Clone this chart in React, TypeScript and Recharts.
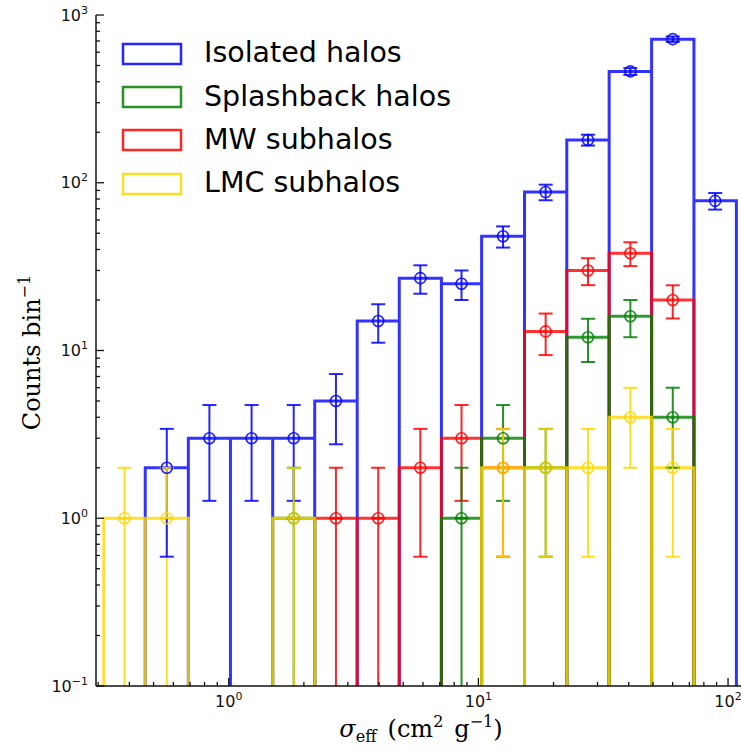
import React from "react"
import { ComposedChart, Line, Scatter, ErrorBar, XAxis, YAxis, Legend } from "recharts"

// log-spaced bin edges of sigma_eff (cm^2 g^-1)
const binEdges = [0.316, 0.463, 0.689, 1.016, 1.5, 2.21, 3.27, 4.82, 7.11, 10.3, 15.3, 22.6, 33.4, 49.4, 73, 108]

// counts per bin
const isolatedCounts = [0, 2, 3, 3, 3, 5, 15, 27, 25, 48, 88, 180, 461, 718, 78]
const splashbackCounts = [0, 0, 0, 0, 1, 0, 0, 0, 1, 3, 2, 12, 16, 4, 0]
const mwCounts = [0, 0, 0, 0, 0, 1, 1, 2, 3, 2, 13, 30, 38, 20, 0]
const lmcCounts = [1, 1, 0, 0, 1, 0, 0, 0, 0, 2, 2, 2, 4, 2, 0]

// error bar half-lengths
const isolatedErr = [0, 1.41, 1.73, 1.73, 1.73, 2.24, 3.87, 5.2, 5, 6.93, 9.38, 13.4, 21.5, 26.8, 8.83]
const splashbackErr = [0, 0, 0, 0, 1, 0, 0, 0, 1, 1.73, 1.41, 3.46, 4, 2, 0]
const mwErr = [0, 0, 0, 0, 0, 1, 1, 1.41, 1.73, 1.41, 3.61, 5.48, 6.16, 4.47, 0]
const lmcErr = [1, 1, 0, 0, 1, 0, 0, 0, 0, 1.41, 1.41, 1.41, 2, 1.41, 0]

const xMajorTicks = [1, 10, 100]
const yMajorTicks = [0.1, 1, 10, 100, 1000]

const X_DOMAIN = [0.294, 118]
const Y_DOMAIN = [0.1, 1000]

const series = [
  { name: "Isolated halos", color: "#0000ff", counts: isolatedCounts, errors: isolatedErr },
  { name: "Splashback halos", color: "#008000", counts: splashbackCounts, errors: splashbackErr },
  { name: "MW subhalos", color: "#ff0000", counts: mwCounts, errors: mwErr },
  { name: "LMC subhalos", color: "#ffd700", counts: lmcCounts, errors: lmcErr },
]
// draw order: blue, red, green, yellow
const drawOrder = [0, 2, 1, 3]

const minors = (lo: number, hi: number) => {
  const out: number[] = []
  for (let d = 0.1; d < 1000; d *= 10) {
    for (let m = 2; m <= 9; m++) {
      const v = +(m * d).toPrecision(3)
      if (v > lo && v < hi) out.push(v)
    }
  }
  return out
}
const xTicks = [...xMajorTicks, ...minors(X_DOMAIN[0], X_DOMAIN[1])].sort((a, b) => a - b)
const yTicks = [...yMajorTicks, ...minors(Y_DOMAIN[0], Y_DOMAIN[1])].sort((a, b) => a - b)

const binCenter = (i: number) => Math.sqrt(binEdges[i] * binEdges[i + 1])

// bar outlines (histtype="bar", unfilled): each bar drawn from the bottom up
function outline(counts: number[]) {
  const pts: { x: number; y: number | null }[] = []
  counts.forEach((c, i) => {
    if (c <= 0) return
    const lo = binEdges[i]
    const hi = binEdges[i + 1]
    if (i === 0 || counts[i - 1] <= 0) {
      if (pts.length) pts.push({ x: lo, y: null })
      pts.push({ x: lo, y: Y_DOMAIN[0] })
    }
    pts.push({ x: lo, y: c }, { x: hi, y: c }, { x: hi, y: Y_DOMAIN[0] })
  })
  return pts
}

// lower whiskers that run off the log axis (count - error <= 0)
function openWhiskers(counts: number[], errors: number[]) {
  const pts: { x: number; y: number | null }[] = []
  counts.forEach((c, i) => {
    if (c <= 0 || errors[i] < c) return
    if (pts.length) pts.push({ x: binCenter(i), y: null })
    pts.push({ x: binCenter(i), y: c }, { x: binCenter(i), y: Y_DOMAIN[0] })
  })
  return pts
}

function markers(counts: number[], errors: number[]) {
  return counts.flatMap((c, i) =>
    c > 0 ? [{ x: binCenter(i), y: c, err: [errors[i] >= c ? 0 : errors[i], errors[i]] }] : []
  )
}

const isMajor = (v: number) => Math.abs(Math.log10(v) - Math.round(Math.log10(v))) < 1e-6
const expText = (v: number) => {
  const e = Math.round(Math.log10(v))
  return e < 0 ? "\u2212" + -e : String(e)
}

const TICK_FONT = "DejaVu Sans"
const LABEL_FONT = "DejaVu Serif"

function BottomTick({ x, y, payload }: any) {
  const v = payload.value
  const major = isMajor(v)
  return (
    <g>
      <line x1={x} x2={x} y1={y} y2={y - (major ? 8 : 4)} stroke="#111" strokeWidth={1.3} />
      {major && (
        <text x={x} y={y + 21} textAnchor="middle" fontFamily={TICK_FONT} fontSize={16} fill="#111">
          10<tspan dy={-7} fontSize={11}>{expText(v)}</tspan>
        </text>
      )}
    </g>
  )
}

function TopTick({ x, y, payload }: any) {
  const major = isMajor(payload.value)
  return <line x1={x} x2={x} y1={y} y2={y + (major ? 8 : 4)} stroke="#111" strokeWidth={1.3} />
}

function LeftTick({ x, y, payload }: any) {
  const v = payload.value
  const major = isMajor(v)
  return (
    <g>
      <line x1={x} x2={x + (major ? 8 : 4)} y1={y} y2={y} stroke="#111" strokeWidth={1.3} />
      {major && (
        <text x={x - 8} y={y + 5.5} textAnchor="end" fontFamily={TICK_FONT} fontSize={16} fill="#111">
          10<tspan dy={-7} fontSize={11}>{expText(v)}</tspan>
        </text>
      )}
    </g>
  )
}

function RightTick({ x, y, payload }: any) {
  const major = isMajor(payload.value)
  return <line x1={x} x2={x - (major ? 8 : 4)} y1={y} y2={y} stroke="#111" strokeWidth={1.3} />
}

function XLabel({ viewBox }: any) {
  const cx = viewBox.x + viewBox.width / 2
  const y = viewBox.y + 51
  return (
    <text x={cx} y={y} textAnchor="middle" fontFamily={LABEL_FONT} fontSize={24} fill="#000">
      <tspan fontStyle="italic">σ</tspan>
      <tspan fontSize={16} dy={5}>eff</tspan>
      <tspan dy={-5} dx={11}>(cm</tspan>
      <tspan fontSize={16} dy={-10}>2</tspan>
      <tspan dy={10} dx={11}>g</tspan>
      <tspan fontSize={16} dy={-10}>−1</tspan>
      <tspan dy={10}>)</tspan>
    </text>
  )
}

function YLabel({ viewBox }: any) {
  const x = 40
  const cy = viewBox.y + viewBox.height / 2 + 2
  return (
    <text
      x={x}
      y={cy}
      transform={`rotate(-90 ${x} ${cy})`}
      textAnchor="middle"
      fontFamily={LABEL_FONT}
      fontSize={24}
      fill="#000"
    >
      Counts bin<tspan fontSize={16} dy={-10}>−1</tspan>
    </text>
  )
}

const renderLegend = () => (
  <div style={{ fontFamily: TICK_FONT, fontSize: 28.5, color: "#000" }}>
    {series.map((s) => (
      <div key={s.name} style={{ display: "flex", alignItems: "center", height: 43.3 }}>
        <svg width={64} height={24} style={{ display: "block" }}>
          <rect x={3} y={2} width={58} height={20} fill="none" stroke={s.color} strokeWidth={2.5} strokeOpacity={0.85} />
        </svg>
        <span style={{ marginLeft: 20, lineHeight: 1, whiteSpace: "nowrap" }}>{s.name}</span>
      </div>
    ))}
  </div>
)

export default function App() {
  return (
    <div style={{ position: "absolute", left: 0, top: 0, width: 741, height: 752, overflow: "hidden", background: "#fff" }}>
      <ComposedChart width={760} height={752} margin={{ top: 15, right: 14, bottom: 0, left: 0 }}>
        <XAxis
          xAxisId="bottom"
          dataKey="x"
          type="number"
          scale="log"
          domain={X_DOMAIN}
          allowDataOverflow
          ticks={xTicks}
          interval={0}
          tick={<BottomTick />}
          tickLine={false}
          tickSize={0}
          tickMargin={0}
          height={66}
          axisLine={{ stroke: "#111", strokeWidth: 1.5 }}
          label={{ content: <XLabel /> }}
        />
        <XAxis
          xAxisId="top"
          orientation="top"
          dataKey="x"
          type="number"
          scale="log"
          domain={X_DOMAIN}
          allowDataOverflow
          ticks={xTicks}
          interval={0}
          tick={<TopTick />}
          tickLine={false}
          tickSize={0}
          tickMargin={0}
          height={0}
          axisLine={{ stroke: "#111", strokeWidth: 1.5 }}
        />
        <YAxis
          yAxisId="left"
          dataKey="y"
          type="number"
          scale="log"
          domain={Y_DOMAIN}
          allowDataOverflow
          ticks={yTicks}
          interval={0}
          tick={<LeftTick />}
          tickLine={false}
          tickSize={0}
          tickMargin={0}
          width={96}
          axisLine={{ stroke: "#111", strokeWidth: 1.5 }}
          label={{ content: <YLabel /> }}
        />
        <YAxis
          yAxisId="right"
          orientation="right"
          dataKey="y"
          type="number"
          scale="log"
          domain={Y_DOMAIN}
          allowDataOverflow
          ticks={yTicks}
          interval={0}
          tick={<RightTick />}
          tickLine={false}
          tickSize={0}
          tickMargin={0}
          width={0}
          axisLine={{ stroke: "#111", strokeWidth: 1.5 }}
        />
        {drawOrder.map((k) => {
          const s = series[k]
          return (
            <Line
              key={`bars-${s.name}`}
              xAxisId="bottom"
              yAxisId="left"
              data={outline(s.counts)}
              dataKey="y"
              type="linear"
              stroke={s.color}
              strokeOpacity={0.8}
              strokeWidth={3}
              dot={false}
              activeDot={false}
              connectNulls={false}
              legendType="none"
              isAnimationActive={false}
            />
          )
        })}
        {drawOrder.map((k) => {
          const s = series[k]
          return (
            <Line
              key={`whisk-${s.name}`}
              xAxisId="bottom"
              yAxisId="left"
              data={openWhiskers(s.counts, s.errors)}
              dataKey="y"
              type="linear"
              stroke={s.color}
              strokeOpacity={0.85}
              strokeWidth={2}
              dot={false}
              activeDot={false}
              connectNulls={false}
              legendType="none"
              isAnimationActive={false}
            />
          )
        })}
        {drawOrder.map((k) => {
          const s = series[k]
          return (
            <Scatter
              key={`err-${s.name}`}
              xAxisId="bottom"
              yAxisId="left"
              data={markers(s.counts, s.errors)}
              dataKey="y"
              legendType="none"
              isAnimationActive={false}
              shape={(p: any) => (
                <circle cx={p.cx} cy={p.cy} r={5.5} fill="none" stroke={s.color} strokeOpacity={0.85} strokeWidth={1.6} />
              )}
            >
              <ErrorBar dataKey="err" direction="y" width={7} stroke={s.color} strokeOpacity={0.85} strokeWidth={2} isAnimationActive={false} />
            </Scatter>
          )
        })}
        <Legend
          layout="vertical"
          align="center"
          verticalAlign="middle"
          wrapperStyle={{ left: 120, top: 32, width: 340, height: 180 }}
          content={renderLegend}
        />
      </ComposedChart>
    </div>
  )
}
